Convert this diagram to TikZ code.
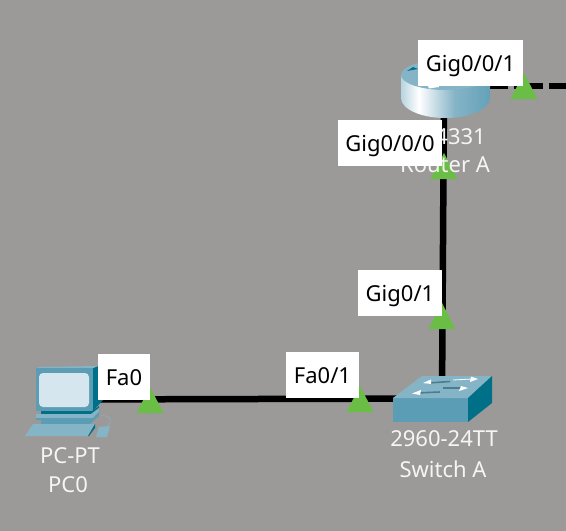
\documentclass[tikz,border=0pt]{standalone}
\usepackage{fontspec}
\setmainfont{Noto Sans}
\usetikzlibrary{positioning}
\definecolor{deskgray}{HTML}{9C9A98}
\definecolor{portgreen}{HTML}{6ABD45}
\definecolor{ciscotop}{HTML}{86B4C7}
\definecolor{ciscofront}{HTML}{5A9DB5}
\definecolor{ciscodark}{HTML}{007089}
\definecolor{ciscoscreen}{HTML}{D6E6EE}
\pgfdeclarehorizontalshading{routerside}{100bp}{
  color(0bp)=(ciscofront!75!black); color(12bp)=(ciscofront); color(35bp)=(white);
  color(55bp)=(ciscotop); color(80bp)=(ciscofront); color(100bp)=(ciscodark)}
\tikzset{
  device/.style={inner sep=0pt, minimum size=1pt},
  link/.style={line width=6.5pt, black},
  portlabel/.style={fill=white, inner sep=0pt, minimum height=46pt, text height=21pt, text depth=4pt, text=black},
  devlabel/.style={inner sep=0pt, text=white!96!black},
  arrowshaft/.style={ciscofront!80!black, line width=1.6pt},
  arrowlight/.style={white, line width=0.8pt}
}
\begin{document}
\begin{tikzpicture}[x=1pt, y=-1pt, font=\fontsize{22}{26}\selectfont]
        \useasboundingbox (0,0) rectangle (566,531);
        \fill[deskgray] (0,0) rectangle (566,531);

        \node[device] (pc) at (70,399.5) {};
        \node[device] (switch) at (442,398.5) {};
        \node[device] (router) at (444,90) {};
        \coordinate (cloudside) at (566,86);
        \coordinate (routerside) at (490,86);

        \draw[link] (pc) -- (switch);
        \draw[link] (switch) -- (router);
        \draw[link, dash pattern=on 18pt off 6pt on 29pt off 6pt on 20pt off 5pt] (routerside) -- (cloudside);

        \foreach \px/\py in {150/400, 360/399, 442/316, 524/86, 444/166}
            \fill[portgreen] (\px,\py) ++(-13.5,13) -- ++(27,0) -- ++(-13.5,-26) -- cycle;

        % router
        \path[shading=routerside] (401,75) -- (401,98) arc[x radius=44.5, y radius=20, start angle=180, end angle=0] -- (490,75) -- cycle;
        \fill[ciscotop] (445.5,75) ellipse[x radius=44.5, y radius=15];
        \fill[ciscodark] (407,71) -- (413,67) -- (418,69) -- (412,70) -- cycle;
        \fill[white] (428,86) -- (438,84) -- (439,87) -- (429,88.5) -- cycle;

        % switch
        \fill[ciscofront] (393,398) rectangle (468,422);
        \fill[ciscotop] (393,398) -- (468,398) -- (492,376) -- (422,376) -- cycle;
        \fill[ciscodark] (468,398) -- (492,376) -- (492,403) -- (468,422) -- cycle;
        \draw[arrowshaft] (428,383) -- (450,381.5);
        \fill[white] (423,383) -- (431,379.5) -- (431,384) -- cycle;
        \draw[arrowlight] (453,380) -- (472,379);
        \fill[white] (478,379) -- (471,376.5) -- (470,382) -- cycle;
        \draw[arrowshaft] (416,393) -- (440,392);
        \fill[white] (412,393.5) -- (421,390) -- (420,395) -- cycle;
        \draw[arrowshaft] (443,388) -- (464,388);
        \fill[white] (468,388) -- (461,386) -- (459,391) -- cycle;

        % pc
        \draw[ciscotop, thin] (100,416) .. controls (110,414) and (114,421) .. (107,426);
        \fill[ciscodark] (93,368) -- (98,366) -- (103,366) -- (103,400) -- (93,411) -- cycle;
        \fill[ciscotop] (36,368) -- (40,367) -- (98,366) -- (93,368) -- cycle;
        \fill[ciscofront] (36,368) rectangle (93,411);
        \fill[ciscoscreen, rounded corners=4pt] (39,373) rectangle (89,407);
        \fill[ciscodark] (41,411) -- (92,411) -- (99,406) -- (99,411) -- (91,414) -- (41,414) -- cycle;
        \fill[ciscotop] (36,414) -- (91,414) -- (99,408) -- (99,411) -- (93,418) -- (36,418) -- cycle;
        \fill[ciscofront] (36,418) -- (93,418) -- (99,412) -- (99,416) -- (90,424) -- (41,424) -- (41,420) -- (36,420) -- cycle;
        \fill[ciscotop] (25,436) -- (33,424) -- (95,424) -- (88,436) -- cycle;
        \fill[ciscodark] (88,436) -- (95,424) -- (95,428) -- (89,436) -- cycle;
        \fill[ciscotop] (96,437) -- (99,427) -- (110,426) -- (107,437) -- cycle;

        \node[devlabel] (pcmodel) at (70,456) {PC-PT};
        \node[devlabel] (pcname) at (68,485) {PC0};
        \node[devlabel] (switchmodel) at (444,439) {2960-24TT};
        \node[devlabel] (switchname) at (443,469) {Switch A};
        \node[devlabel, anchor=east] (routermodel) at (486,137) {4331};
        \node[devlabel] (routername) at (445,165) {Router A};

        \node[portlabel, minimum width=52pt] (fa0) at (124,377) {Fa0};
        \node[portlabel, minimum width=73pt] (fa01) at (322.5,375) {Fa0/1};
        \node[portlabel, minimum width=84pt] (gig01) at (400,293) {Gig0/1};
        \node[portlabel, minimum width=105pt] (gig001) at (470.5,63) {Gig0/0/1};
        \node[portlabel, minimum width=104pt] (gig000) at (390,143) {Gig0/0/0};
    \end{tikzpicture}
\end{document}
